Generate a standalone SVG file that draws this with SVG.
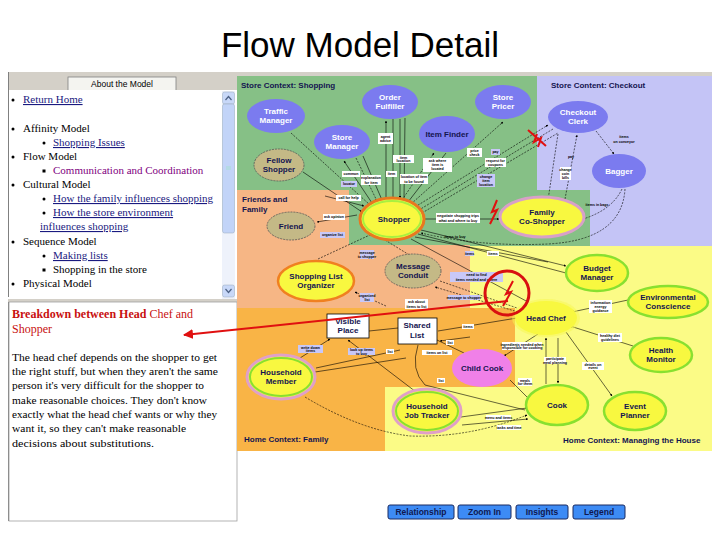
<svg xmlns="http://www.w3.org/2000/svg" width="720" height="540" viewBox="0 0 720 540">
<defs>
<marker id="ah" viewBox="0 0 6 6" refX="5.5" refY="3" markerWidth="4" markerHeight="4" orient="auto"><path d="M0,0 L6,3 L0,6 z" fill="#000"/></marker>
<marker id="rah" viewBox="0 0 10 10" refX="9" refY="5" markerWidth="5" markerHeight="5" orient="auto"><path d="M0,0 L10,5 L0,10 z" fill="#e01010"/></marker>
</defs>
<style>
.ser{font-family:"Liberation Serif","Times New Roman",serif;font-size:11px;fill:#000}
.lnk{fill:#1a1a80;text-decoration:underline}
.vis{fill:#800080}
.zl{font-family:"Liberation Sans",Arial,sans-serif;font-size:8px;font-weight:bold;fill:#141450}
.nb{font-family:"Liberation Sans",Arial,sans-serif;font-size:8px;font-weight:bold;text-anchor:middle}
.wt{fill:#fff}
.dk{fill:#141450}
.blue{fill:#7b7bef}
.olive{fill:#c4b986;stroke:#555;stroke-width:0.8;stroke-dasharray:2,1}
.yg{fill:#f8f840;stroke:#88e030;stroke-width:2.5}
.lb{font-family:"Liberation Sans",Arial,sans-serif;font-size:3.6px;font-weight:bold;fill:#000;text-anchor:middle}
.bw{fill:#fff}
.bl{fill:#c8c8f8}
.c{fill:none;stroke:#000;stroke-width:0.6}
.d{stroke-dasharray:2,1.3}
.btn{fill:#3d8bf5;stroke:#1a2a60;stroke-width:1}
.bt{font-family:"Liberation Sans",Arial,sans-serif;font-size:8.5px;font-weight:bold;fill:#101850;text-anchor:middle}
</style>
<rect width="720" height="540" fill="#fff"/>
<text x="360" y="57" text-anchor="middle" font-family="Liberation Sans, Arial, sans-serif" font-size="35" fill="#000">Flow Model Detail</text>

<!-- left panel -->
<g id="left-panel">
<rect x="8" y="72" width="229" height="18" fill="#d4d0c8"/>
<rect x="68" y="77" width="108" height="14" fill="#f4f4f0" stroke="#808080" stroke-width="0.8"/>
<text x="122" y="87" text-anchor="middle" font-family="Liberation Sans, Arial, sans-serif" font-size="8.5" fill="#000">About the Model</text>
<rect x="8" y="90" width="229" height="210" fill="#fff"/>
<line x1="8.5" y1="72" x2="8.5" y2="521" stroke="#808080" stroke-width="1"/>
<rect x="222" y="91" width="13" height="208" fill="#eef2fb"/>
<rect x="222.5" y="92" width="12" height="12" rx="2" fill="#c8d8f8" stroke="#9ab" stroke-width="0.5"/>
<path d="M225.5,100 L228.5,96.5 L231.5,100" fill="none" stroke="#4d6185" stroke-width="1.2"/>
<rect x="222.5" y="104" width="12" height="129" rx="2" fill="#c2d4f8" stroke="#9ab" stroke-width="0.5"/>
<line x1="226" y1="167" x2="231" y2="167" stroke="#8ea" stroke-width="0.5"/>
<line x1="226" y1="169" x2="231" y2="169" stroke="#8ea" stroke-width="0.5"/>
<rect x="222.5" y="285" width="12" height="12" rx="2" fill="#c8d8f8" stroke="#9ab" stroke-width="0.5"/>
<path d="M225.5,289 L228.5,292.5 L231.5,289" fill="none" stroke="#4d6185" stroke-width="1.2"/>
<g class="ser">
<circle cx="13" cy="100" r="1.5"/><text x="23" y="103" class="lnk">Return Home</text>
<circle cx="13" cy="129" r="1.5"/><text x="23" y="132">Affinity Model</text>
<circle cx="44" cy="143" r="1.5"/><text x="53" y="146" class="lnk">Shopping Issues</text>
<circle cx="13" cy="157" r="1.5"/><text x="23" y="160">Flow Model</text>
<rect x="42.5" y="169.5" width="3" height="3"/><text x="53" y="174" class="vis">Communication and Coordination</text>
<circle cx="13" cy="185" r="1.5"/><text x="23" y="188">Cultural Model</text>
<circle cx="44" cy="199" r="1.5"/><text x="53" y="202" class="lnk">How the family influences shopping</text>
<circle cx="44" cy="213" r="1.5"/><text x="53" y="216" class="lnk">How the store environment</text>
<text x="40" y="230" class="lnk">influences shopping</text>
<circle cx="13" cy="242" r="1.5"/><text x="23" y="245">Sequence Model</text>
<circle cx="44" cy="256" r="1.5"/><text x="53" y="259" class="lnk">Making lists</text>
<rect x="42.5" y="268.5" width="3" height="3"/><text x="53" y="273">Shopping in the store</text>
<circle cx="13" cy="284" r="1.5"/><text x="23" y="287">Physical Model</text>
</g>
<rect x="8" y="297" width="214" height="3" fill="#fff"/>
<rect x="8" y="299" width="229" height="3" fill="#d4d0c8"/>
<rect x="9" y="302" width="228" height="219" fill="#fff" stroke="#a0a0a0" stroke-width="0.8"/>
<text x="12" y="318" font-family="Liberation Serif, Times New Roman, serif" font-size="12" fill="#c81010" font-weight="bold">Breakdown between Head <tspan font-weight="normal">Chef and</tspan></text>
<text x="12" y="333" font-family="Liberation Serif, Times New Roman, serif" font-size="12" fill="#c81010">Shopper</text>
<g class="ser">
<text x="12" y="361" textLength="205" lengthAdjust="spacingAndGlyphs">The head chef depends on the shopper to get</text>
<text x="12" y="375" textLength="206" lengthAdjust="spacingAndGlyphs">the right stuff, but when they aren't the same</text>
<text x="12" y="389" textLength="192" lengthAdjust="spacingAndGlyphs">person it's very difficult for the shopper to</text>
<text x="12" y="404" textLength="195" lengthAdjust="spacingAndGlyphs">make reasonable choices. They don't know</text>
<text x="12" y="418" textLength="205" lengthAdjust="spacingAndGlyphs">exactly what the head chef wants or why they</text>
<text x="12" y="432" textLength="174" lengthAdjust="spacingAndGlyphs">want it, so they can't make reasonable</text>
<text x="12" y="447" textLength="142" lengthAdjust="spacingAndGlyphs">decisions about substitutions.</text>
</g>
</g>

<!-- zones -->
<g id="zones">
<rect x="237" y="72" width="475" height="4" fill="#d4d0c8"/>
<rect x="470" y="245" width="242" height="206" fill="#fbfb86"/>
<rect x="385" y="386" width="130" height="65" fill="#fbfb86"/>
<rect x="537" y="76" width="175" height="170" fill="#c4c4f6"/>
<rect x="237" y="76" width="300" height="115" fill="#86c086"/>
<rect x="349" y="190" width="241" height="56" fill="#86c086"/>
<rect x="237" y="190" width="112" height="56" fill="#f6b685"/>
<rect x="237" y="245" width="233" height="64" fill="#f6b685"/>
<rect x="237" y="308" width="278" height="79" fill="#f9b446"/>
<rect x="237" y="386" width="148" height="65" fill="#f9b446"/>
<text x="241" y="88" class="zl">Store Context: Shopping</text>
<text x="551" y="88" class="zl">Store Content: Checkout</text>
<text x="242" y="202" class="zl">Friends and</text>
<text x="242" y="212" class="zl">Family</text>
<text x="244" y="442" class="zl">Home Context: Family</text>
<text x="563" y="443" class="zl">Home Context: Managing the House</text>
</g>

<!-- connectors -->
<g id="connectors">
<line class="c d" x1="291" y1="133" x2="370" y2="205" marker-end="url(#ah)"/>
<line class="c" x1="303" y1="172" x2="362" y2="212" marker-end="url(#ah)"/>
<line class="c" x1="372" y1="203" x2="344" y2="161" marker-end="url(#ah)"/>
<line class="c d" x1="356" y1="158" x2="377" y2="201" marker-end="url(#ah)"/>
<line class="c" x1="363" y1="156" x2="382" y2="200"/>
<line class="c" x1="386" y1="199" x2="386" y2="121" marker-end="url(#ah)"/>
<line class="c" x1="393" y1="119" x2="393" y2="198"/>
<line class="c" x1="400" y1="119" x2="400" y2="198" marker-end="url(#ah)"/>
<line class="c" x1="405" y1="118" x2="404" y2="199"/>
<line class="c d" x1="402" y1="200" x2="434" y2="153" marker-end="url(#ah)"/>
<line class="c" x1="446" y1="153" x2="408" y2="202" marker-end="url(#ah)"/>
<line class="c d" x1="411" y1="204" x2="503" y2="122" marker-end="url(#ah)"/>
<line class="c d" x1="415" y1="207" x2="548" y2="125" marker-end="url(#ah)"/>
<line class="c d" x1="553" y1="129" x2="419" y2="210" marker-end="url(#ah)"/>
<line class="c d" x1="422" y1="213" x2="558" y2="133"/>
<line class="c d" x1="558" y1="134" x2="548" y2="200" marker-end="url(#ah)"/>
<line class="c d" x1="565" y1="199" x2="577" y2="135" marker-end="url(#ah)"/>
<line class="c d" x1="596" y1="131" x2="614" y2="154" marker-end="url(#ah)"/>
<path class="c d" d="M622,189 Q612,210 583,219" marker-end="url(#ah)"/>
<path class="c d" d="M625,189 Q622,240 548,244 Q480,247 421,233" marker-end="url(#ah)"/>
<line class="c" x1="425" y1="219" x2="499" y2="219" marker-end="url(#ah)"/>
<line class="c" x1="421" y1="230" x2="566" y2="266" marker-end="url(#ah)"/>
<line class="c" x1="418" y1="234" x2="566" y2="273"/>
<line class="c" x1="415" y1="237" x2="548" y2="262"/>
<line class="c" x1="411" y1="239" x2="528" y2="302" marker-end="url(#ah)"/>
<line class="c" x1="357" y1="215" x2="317" y2="222" marker-end="url(#ah)"/>
<line class="c" x1="325" y1="196" x2="364" y2="206" marker-end="url(#ah)"/>
<line class="c d" x1="318" y1="259" x2="372" y2="234" marker-end="url(#ah)"/>
<line class="c d" x1="385" y1="240" x2="411" y2="256" marker-end="url(#ah)"/>
<line class="c d" x1="386" y1="306" x2="355" y2="292" marker-end="url(#ah)"/>
<line class="c d" x1="440" y1="281" x2="517" y2="308"/>
<line class="c d" x1="518" y1="312" x2="435" y2="287" marker-end="url(#ah)"/>
<line class="c" x1="300" y1="358" x2="330" y2="339" marker-end="url(#ah)"/>
<line class="c" x1="420" y1="395" x2="348" y2="340" marker-end="url(#ah)"/>
<line class="c" x1="315" y1="372" x2="406" y2="358"/>
<line class="c" x1="316" y1="368" x2="400" y2="350"/>
<line class="c" x1="369" y1="331" x2="398" y2="328"/>
<path class="c d" d="M305,397 Q360,430 410,436 Q470,438 527,415" marker-end="url(#ah)"/>
<line class="c" x1="438" y1="331" x2="517" y2="318" marker-end="url(#ah)"/>
<line class="c" x1="470" y1="337" x2="440" y2="341" marker-end="url(#ah)"/>
<line class="c" x1="437" y1="340" x2="464" y2="353"/>
<line class="c" x1="538" y1="334" x2="504" y2="356" marker-end="url(#ah)"/>
<path class="c" d="M418,345 Q410,370 425,385 L525,410"/>
<line class="c" x1="510" y1="380" x2="528" y2="398"/>
<line class="c" x1="461" y1="417" x2="527" y2="408" marker-end="url(#ah)"/>
<line class="c" x1="462" y1="425" x2="528" y2="419" marker-end="url(#ah)"/>
<line class="c" x1="546" y1="384" x2="546" y2="338" marker-end="url(#ah)"/>
<line class="c" x1="558" y1="338" x2="558" y2="383" marker-end="url(#ah)"/>
<line class="c" x1="628" y1="300" x2="572" y2="312" marker-end="url(#ah)"/>
<line class="c" x1="633" y1="346" x2="570" y2="326" marker-end="url(#ah)"/>
<line class="c" x1="566" y1="332" x2="612" y2="396" marker-end="url(#ah)"/>
</g>

<!-- nodes -->
<g id="traffic-manager"><ellipse class="blue" cx="276" cy="116" rx="29" ry="17"/><text class="nb wt" x="276" y="114">Traffic</text><text class="nb wt" x="276" y="123">Manager</text></g>
<g id="order-fulfiller"><ellipse class="blue" cx="390" cy="102" rx="28" ry="17"/><text class="nb wt" x="390" y="100">Order</text><text class="nb wt" x="390" y="109">Fulfiller</text></g>
<g id="store-pricer"><ellipse class="blue" cx="503" cy="102" rx="28" ry="17"/><text class="nb wt" x="503" y="100">Store</text><text class="nb wt" x="503" y="109">Pricer</text></g>
<g id="store-manager"><ellipse class="blue" cx="342" cy="142" rx="28" ry="17"/><text class="nb wt" x="342" y="140">Store</text><text class="nb wt" x="342" y="149">Manager</text></g>
<g id="item-finder"><ellipse class="blue" cx="447" cy="134" rx="28" ry="18"/><text class="nb dk" x="447" y="137">Item Finder</text></g>
<g id="fellow-shopper"><ellipse class="olive" cx="279" cy="165" rx="25" ry="16"/><text class="nb dk" x="279" y="163">Fellow</text><text class="nb dk" x="279" y="172">Shopper</text></g>
<g id="checkout-clerk"><ellipse class="blue" cx="578" cy="117" rx="30" ry="16"/><text class="nb wt" x="578" y="115">Checkout</text><text class="nb wt" x="578" y="124">Clerk</text></g>
<g id="bagger"><ellipse class="blue" cx="619" cy="171" rx="27" ry="17"/><text class="nb wt" x="619" y="174">Bagger</text></g>
<g id="shopper"><ellipse cx="392" cy="219" rx="32" ry="21" fill="#f8f840" stroke="#e87820" stroke-width="3"/><ellipse cx="392" cy="219" rx="29" ry="18" fill="none" stroke="#a8f040" stroke-width="2"/><text class="nb dk" x="394" y="222">Shopper</text></g>
<g id="family-co-shopper"><ellipse cx="542" cy="217" rx="42" ry="20" fill="#f8f840" stroke="#d8a0c8" stroke-width="3"/><text class="nb dk" x="542" y="215">Family</text><text class="nb dk" x="542" y="224">Co-Shopper</text></g>
<g id="friend"><ellipse class="olive" cx="291" cy="226" rx="24" ry="14"/><text class="nb dk" x="291" y="229">Friend</text></g>
<g id="shopping-list-organizer"><ellipse cx="316" cy="281" rx="38" ry="20" fill="#f8f840" stroke="#f08020" stroke-width="2.5"/><text class="nb dk" x="316" y="279">Shopping List</text><text class="nb dk" x="316" y="288">Organizer</text></g>
<g id="message-conduit"><ellipse class="olive" cx="413" cy="271" rx="28" ry="17"/><text class="nb dk" x="413" y="269">Message</text><text class="nb dk" x="413" y="278">Conduit</text></g>
<g id="budget-manager"><ellipse class="yg" cx="597" cy="273" rx="31" ry="18"/><text class="nb dk" x="597" y="271">Budget</text><text class="nb dk" x="597" y="280">Manager</text></g>
<g id="environmental-conscience"><ellipse class="yg" cx="668" cy="302" rx="40" ry="16"/><text class="nb dk" x="668" y="300">Environmental</text><text class="nb dk" x="668" y="309">Conscience</text></g>
<g id="head-chef"><ellipse cx="546" cy="318" rx="34" ry="19" fill="#f8f850" opacity="0.5"/><ellipse cx="546" cy="318" rx="31" ry="17" fill="#f8f840"/><text class="nb dk" x="546" y="321">Head Chef</text></g>
<g id="health-monitor"><ellipse class="yg" cx="661" cy="355" rx="31" ry="17"/><text class="nb dk" x="661" y="353">Health</text><text class="nb dk" x="661" y="362">Monitor</text></g>
<g id="child-cook"><ellipse cx="482" cy="368" rx="30" ry="19" fill="#f080e8"/><text class="nb dk" x="482" y="371">Child Cook</text></g>
<g id="cook"><ellipse class="yg" cx="557" cy="405" rx="31" ry="20"/><text class="nb dk" x="557" y="408">Cook</text></g>
<g id="event-planner"><ellipse class="yg" cx="635" cy="411" rx="31" ry="19"/><text class="nb dk" x="635" y="409">Event</text><text class="nb dk" x="635" y="418">Planner</text></g>
<g id="household-member"><ellipse cx="281" cy="377" rx="34" ry="22" fill="#f8f840" stroke="#e0a0c8" stroke-width="3"/><ellipse cx="281" cy="377" rx="31" ry="19" fill="none" stroke="#88e030" stroke-width="2"/><text class="nb dk" x="281" y="375">Household</text><text class="nb dk" x="281" y="384">Member</text></g>
<g id="household-job-tracker"><ellipse cx="427" cy="411" rx="34" ry="22" fill="#f8f840" stroke="#e0a0c8" stroke-width="3"/><ellipse cx="427" cy="411" rx="31" ry="19" fill="none" stroke="#88e030" stroke-width="2"/><text class="nb dk" x="427" y="409">Household</text><text class="nb dk" x="427" y="418">Job Tracker</text></g>
<g id="visible-place"><rect x="327" y="314" width="42" height="24" fill="#fff" stroke="#000" stroke-width="0.8"/><text class="nb dk" x="348" y="324">Visible</text><text class="nb dk" x="348" y="333">Place</text></g>
<g id="shared-list"><rect x="398" y="318" width="39" height="26" fill="#fff" stroke="#000" stroke-width="0.8"/><text class="nb dk" x="417" y="328">Shared</text><text class="nb dk" x="417" y="338">List</text></g>

<!-- small labels -->
<g id="labels">
<rect class="bw" x="378" y="133" width="15" height="11"/><text class="lb" x="385.5" y="137.5">agent</text><text class="lb" x="385.5" y="142">advice</text>
<rect class="bw" x="393" y="155" width="21" height="8"/><text class="lb" x="403.5" y="158.5">item</text><text class="lb" x="403.5" y="162">location</text>
<rect class="bw" x="342" y="171" width="18" height="6"/><text class="lb" x="351" y="175.3">common</text>
<rect class="bl" x="341" y="181" width="16" height="6"/><text class="lb" x="349" y="185.3">locator</text>
<rect class="bw" x="361" y="175" width="20" height="10"/><text class="lb" x="371" y="179">explanation</text><text class="lb" x="371" y="183.5">for item</text>
<rect class="bw" x="386" y="171" width="11" height="6"/><text class="lb" x="391.5" y="175.3">item</text>
<rect class="bw" x="400" y="174" width="28" height="10"/><text class="lb" x="414" y="178">location of item</text><text class="lb" x="414" y="182.5">to be found</text>
<rect class="bw" x="423" y="158" width="29" height="14"/><text class="lb" x="437.5" y="162">ask where</text><text class="lb" x="437.5" y="166">item is</text><text class="lb" x="437.5" y="170">located</text>
<rect class="bw" x="467" y="148" width="15" height="9"/><text class="lb" x="474.5" y="152">price</text><text class="lb" x="474.5" y="156">check</text>
<rect class="bl" x="491" y="149" width="9" height="6"/><text class="lb" x="495.5" y="153.3">pay</text>
<rect class="bw" x="485" y="158" width="21" height="9"/><text class="lb" x="495.5" y="162">request for</text><text class="lb" x="495.5" y="166">coupons</text>
<rect class="bl" x="477" y="174" width="18" height="13"/><text class="lb" x="486" y="178">change</text><text class="lb" x="486" y="182">item</text><text class="lb" x="486" y="186">location</text>
<text class="lb" x="624" y="138">items</text><text class="lb" x="624" y="142.5">on conveyor</text>
<rect class="bw" x="560" y="167" width="11" height="13"/><text class="lb" x="565.5" y="171">change</text><text class="lb" x="565.5" y="175">coin</text><text class="lb" x="565.5" y="179">bills</text>
<text class="lb" x="571" y="158">pay</text>
<text class="lb" x="597" y="206">items in bags</text>
<rect class="bw" x="336" y="195" width="25" height="6"/><text class="lb" x="348.5" y="199.3">call for help</text>
<rect class="bw" x="323" y="214" width="22" height="6"/><text class="lb" x="334" y="218.3">ask opinion</text>
<rect class="bl" x="320" y="232" width="25" height="6"/><text class="lb" x="332.5" y="236.3">organize list</text>
<rect class="bl" x="360" y="250" width="14" height="9"/><text class="lb" x="367" y="254">message</text><text class="lb" x="367" y="258">to shopper</text>
<rect class="bl" x="360" y="293" width="14" height="9"/><text class="lb" x="367" y="297">organized</text><text class="lb" x="367" y="301">list</text>
<rect class="bw" x="436" y="213" width="44" height="10"/><text class="lb" x="458" y="217">negotiate shopping trips</text><text class="lb" x="458" y="221.5">what and where to buy</text>
<text class="lb" x="455" y="237.5">items to buy</text>
<rect class="bl" x="465" y="251" width="9" height="5"/><text class="lb" x="469.5" y="254.8">items</text>
<rect class="bw" x="487" y="251" width="12" height="5"/><text class="lb" x="493" y="254.8">items</text>
<rect class="bl" x="450" y="272" width="53" height="10"/><text class="lb" x="476.5" y="276">need to find</text><text class="lb" x="476.5" y="280.5">items needed and where</text>
<rect class="bw" x="405" y="299" width="23" height="10"/><text class="lb" x="416.5" y="303">ask about</text><text class="lb" x="416.5" y="307.5">items to list</text>
<rect class="bl" x="448" y="295" width="32" height="5"/><text class="lb" x="464" y="298.8">message to shopper</text>
<rect class="bl" x="298" y="345" width="25" height="8"/><text class="lb" x="310.5" y="348.5">write down</text><text class="lb" x="310.5" y="352.3">items</text>
<rect class="bl" x="348" y="348" width="27" height="7"/><text class="lb" x="361.5" y="351">look up items</text><text class="lb" x="361.5" y="354.5">to buy</text>
<rect class="bw" x="386" y="349" width="8" height="5"/><text class="lb" x="390" y="352.8">list</text>
<rect class="bw" x="462" y="324" width="12" height="5"/><text class="lb" x="468" y="327.8">items</text>
<rect class="bw" x="446" y="340" width="8" height="5"/><text class="lb" x="450" y="343.8">list</text>
<rect class="bw" x="422" y="350" width="30" height="5"/><text class="lb" x="437" y="353.8">items on list</text>
<rect class="bw" x="502" y="342" width="40" height="8"/><text class="lb" x="522" y="345.5">ingredients needed when</text><text class="lb" x="522" y="349.3">responsible for cooking</text>
<rect class="bw" x="437" y="378" width="8" height="5"/><text class="lb" x="441" y="381.8">list</text>
<rect class="bw" x="518" y="378" width="14" height="8"/><text class="lb" x="525" y="381.5">meals</text><text class="lb" x="525" y="385.3">for them</text>
<rect class="bw" x="486" y="415" width="25" height="5"/><text class="lb" x="498.5" y="418.8">menu and items</text>
<rect class="bw" x="497" y="425" width="24" height="5"/><text class="lb" x="509" y="428.8">tasks and time</text>
<rect class="bw" x="589" y="300" width="23" height="13"/><text class="lb" x="600.5" y="304">information</text><text class="lb" x="600.5" y="308">energy</text><text class="lb" x="600.5" y="312">guidance</text>
<rect class="bw" x="598" y="333" width="24" height="9"/><text class="lb" x="610" y="337">healthy diet</text><text class="lb" x="610" y="341">guidelines</text>
<rect class="bw" x="544" y="357" width="22" height="7"/><text class="lb" x="555" y="360">participate</text><text class="lb" x="555" y="363.5">meal planning</text>
<rect class="bw" x="582" y="362" width="22" height="8"/><text class="lb" x="593" y="365.5">details on</text><text class="lb" x="593" y="369.3">event</text>
</g>

<!-- breakdowns -->
<g id="breakdowns">
<path d="M528,130 L546,146 M537,134 L534,142 L541,138 L538,147" fill="none" stroke="#e01010" stroke-width="2"/>
<path d="M497,200 L492,212 L497,210 L490,224" fill="none" stroke="#e01010" stroke-width="2"/>
<circle cx="507" cy="293" r="22" fill="none" stroke="#d81010" stroke-width="3"/>
<path d="M513,281 L506,294 L511,292 L503,306" fill="none" stroke="#e01010" stroke-width="2"/>
<line x1="508" y1="301" x2="184" y2="335" stroke="#e01010" stroke-width="2" marker-end="url(#rah)"/>
</g>

<!-- buttons -->
<g id="buttons">
<rect class="btn" x="388" y="505" width="66" height="14" rx="2"/><text class="bt" x="421" y="515">Relationship</text>
<rect class="btn" x="458" y="505" width="53" height="14" rx="2"/><text class="bt" x="484.5" y="515">Zoom In</text>
<rect class="btn" x="516" y="505" width="52" height="14" rx="2"/><text class="bt" x="542" y="515">Insights</text>
<rect class="btn" x="573" y="505" width="52" height="14" rx="2"/><text class="bt" x="599" y="515">Legend</text>
</g>
</svg>
